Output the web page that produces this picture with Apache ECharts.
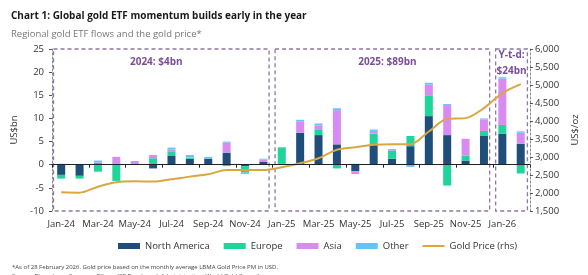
<!DOCTYPE html>
<html>
<head>
<meta charset="utf-8">
<script src="https://cdn.jsdelivr.net/npm/echarts@6/dist/echarts.min.js"></script>
<style>
    html, body {margin: 0; padding: 0; background: #fff;}
    #chart {width: 588px; height: 275px;}
</style>
</head>
<body>
<div id="chart"></div>
<script>
const FONT = '"Open Sans", "Noto Sans", sans-serif';

// ------------------ data ------------------
const categories = ['Jan-24', 'Feb-24', 'Mar-24', 'Apr-24', 'May-24', 'Jun-24', 'Jul-24', 'Aug-24', 'Sep-24', 'Oct-24', 'Nov-24', 'Dec-24',
    'Jan-25', 'Feb-25', 'Mar-25', 'Apr-25', 'May-25', 'Jun-25', 'Jul-25', 'Aug-25', 'Sep-25', 'Oct-25', 'Nov-25', 'Dec-25',
    'Jan-26', 'Feb-26'];
const northAmerica = [-2.2, -2.4, 0.3, 0, 0.1, -0.8, 2.0, 1.3, 1.3, 2.6, -0.3, 0.6, 0.2, 6.9, 6.4, 4.4, -1.4, 4.3, 1.3, 4.0, 10.5, 6.4, 0.9, 6.2, 6.7, 4.5];
const europe = [-0.8, -0.6, -1.5, -3.5, 0, 1.4, 0.9, 0.2, 0, -0.3, -1.4, 0, 3.4, 0, 1.1, -0.8, 0, 2.4, 1.8, 2.2, 4.5, -4.5, 1.1, 1.1, 1.9, -1.9];
const asia = [0, 0, 0.2, 1.7, 0.5, 0.5, 0.4, 0.1, 0, 2.2, 0, 0.5, 0, 2.5, 1.0, 7.4, -0.6, 0.6, 0.1, -0.3, 2.3, 6.5, 3.6, 2.5, 10.0, 2.4];
const other = [0.2, 0.1, 0.4, 0, 0.2, 0.2, 0.4, 0.5, 0.4, 0.2, -0.3, 0.2, 0.2, 0.3, 0.4, 0.4, 0.2, 0.3, 0.2, -0.2, 0.4, 0.2, 0, 0.2, 0.3, 0.3];
const goldPrice = [2020, 2010, 2176, 2298, 2325, 2316, 2380, 2455, 2520, 2640, 2640, 2640, 2716, 2826, 2966, 3200, 3274, 3337, 3356, 3356, 3707, 4060, 4080, 4358, 4775, 5026];

// period boxes (category index range) and their labels
const periods = [
    {from: 0, to: 11, text: ['2024: $4bn'], dx: -5},
    {from: 12, to: 23, text: ['2025: $89bn'], dx: 5},
    {from: 24, to: 25, text: ['Y-t-d:', '$24bn'], dx: 0},
];

const COLORS = {
    na: '#1f4e7a',
    eu: '#1fd59b',
    asia: '#d88cf2',
    other: '#63c5f4',
    gold: '#d9a640',
    box: '#8e77a6',
    boxText: '#7b4e9c',
};

let chart = echarts.init(document.getElementById('chart'), null, {renderer: 'canvas'});

function barSeries(name, data, color) {
    return {
        name: name,
        type: 'bar',
        stack: 'flows',
        barWidth: 8,
        xAxisIndex: 0,
        yAxisIndex: 0,
        itemStyle: {color: color},
        data: data,
    };
}

let option = {
    animation: false,
    textStyle: {fontFamily: FONT},
    title: [
        {
            text: 'Chart 1: Global gold ETF momentum builds early in the year',
            left: 6, top: 6,
            textStyle: {fontSize: 10, fontWeight: 'bold', color: '#1a1a1a', fontFamily: FONT},
        },
        {
            text: 'Regional gold ETF flows and the gold price*',
            left: 6, top: 24,
            textStyle: {fontSize: 9.5, fontWeight: 'normal', color: '#777', fontFamily: FONT},
        },
        {
            text: '*As of 28 February 2026. Gold price based on the monthly average LBMA Gold Price PM in USD.\nSource: Bloomberg, Company Filings, ICE Benchmark Administration, World Gold Council',
            left: 7, top: 258,
            textStyle: {fontSize: 6, fontWeight: 'normal', color: '#444', lineHeight: 9, fontFamily: FONT},
        },
    ],
    legend: {
        left: 113, top: 236,
        itemWidth: 22, itemHeight: 6, itemGap: 14,
        textStyle: {fontSize: 9.5, color: '#333', fontFamily: FONT},
        data: [
            {name: 'North America', icon: 'rect'},
            {name: 'Europe', icon: 'rect'},
            {name: 'Asia', icon: 'rect'},
            {name: 'Other', icon: 'rect'},
            {name: 'Gold Price (rhs)', icon: 'path://M0,0h22v2h-22z'},
        ],
    },
    grid: {left: 52, right: 49, top: 49, bottom: 64},
    xAxis: [
        {
            type: 'category',
            data: categories,
            position: 'bottom',
            axisLine: {show: false, onZero: false},
            axisTick: {show: false},
            axisLabel: {interval: 1, fontSize: 9.5, color: '#333', margin: 8, fontFamily: FONT},
        },
        {
            type: 'category',
            data: categories,
            position: 'bottom',
            z: 10,
            axisLine: {show: true, onZero: true, lineStyle: {color: '#222', width: 1}},
            axisTick: {show: true, interval: 1, length: 3, lineStyle: {color: '#222'}},
            axisLabel: {show: false},
        },
    ],
    yAxis: [
        {
            type: 'value',
            min: -10, max: 25, interval: 5,
            name: 'US$bn',
            nameLocation: 'middle',
            nameGap: 20,
            nameTextStyle: {fontSize: 9.5, color: '#333', fontFamily: FONT},
            axisLine: {show: true, lineStyle: {color: '#888', type: [2, 2]}},
            axisTick: {show: true, length: 3, lineStyle: {color: '#555'}},
            axisLabel: {fontSize: 9.5, color: '#333', margin: 8, fontFamily: FONT},
            splitLine: {show: false},
        },
        {
            type: 'value',
            min: 1500, max: 6000, interval: 500,
            name: 'US$/oz',
            nameLocation: 'middle',
            nameGap: 38,
            nameTextStyle: {fontSize: 9.5, color: '#333', fontFamily: FONT},
            position: 'right',
            axisLine: {show: true, lineStyle: {color: '#888', type: [2, 2]}},
            axisTick: {show: true, length: 3, lineStyle: {color: '#555'}},
            axisLabel: {
                fontSize: 9.5, color: '#333', margin: 5, fontFamily: FONT,
                formatter: v => v.toLocaleString('en-US'),
            },
            splitLine: {show: false},
        },
    ],
    series: [
        barSeries('North America', northAmerica, COLORS.na),
        barSeries('Europe', europe, COLORS.eu),
        barSeries('Asia', asia, COLORS.asia),
        barSeries('Other', other, COLORS.other),
        {
            name: 'Gold Price (rhs)',
            type: 'line',
            xAxisIndex: 0,
            yAxisIndex: 1,
            symbol: 'none',
            smooth: 0.3,
            z: 5,
            lineStyle: {color: COLORS.gold, width: 2},
            itemStyle: {color: COLORS.gold},
            data: goldPrice,
        },
    ],
};

chart.setOption(option);

// dashed boxes around each period, placed from the axis scales
(function drawPeriods() {
    let cx = i => chart.convertToPixel({xAxisIndex: 0}, categories[i]);
    let half = (cx(1) - cx(0)) / 2;
    let yTop = chart.convertToPixel({yAxisIndex: 0}, 25);
    let yBot = chart.convertToPixel({yAxisIndex: 0}, -10);
    let last = categories.length - 1;
    let graphics = [];

    periods.forEach(function (p) {
        let x0 = p.from === 0 ? cx(0) - half + 1.5 : cx(p.from) - half + 2.5;
        let x1 = p.to === last ? cx(last) + half - 2.5 : cx(p.to) + half - 3.5;
        graphics.push({
            type: 'rect',
            shape: {x: x0, y: yTop, width: x1 - x0, height: yBot - yTop},
            style: {fill: 'none', stroke: COLORS.box, lineWidth: 1.3, lineDash: [4, 3]},
            silent: true,
            z: 1,
        });
        p.text.forEach(function (t, k) {
            graphics.push({
                type: 'text',
                x: (x0 + x1) / 2 + p.dx,
                y: yTop + (p.text.length > 1 ? 6 + k * 16 : 13),
                style: {
                    text: t, fill: COLORS.boxText, font: 'bold 10px ' + FONT,
                    textAlign: 'center', textVerticalAlign: 'middle',
                },
                silent: true,
                z: 20,
            });
        });
    });
    chart.setOption({graphic: graphics});
})();
</script>
</body>
</html>
